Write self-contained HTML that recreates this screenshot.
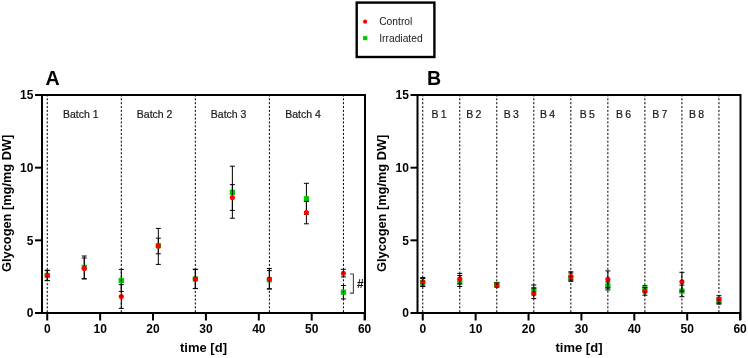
<!DOCTYPE html><html><head><meta charset="utf-8"><style>
html,body{margin:0;padding:0;background:#fff;}
svg{display:block;will-change:transform;}
text{font-family:"Liberation Sans", sans-serif;}
.tk{font-weight:bold;font-size:12px;fill:#000;}
.ttl{font-weight:bold;font-size:13px;fill:#000;}
.bt{font-size:10.5px;fill:#1a1a1a;stroke:#1a1a1a;stroke-width:0.2px;}
.lg{font-size:10.3px;fill:#1a1a1a;}
.pl{font-weight:bold;font-size:19.6px;fill:#000;}
</style></head><body>
<svg width="748" height="358" viewBox="0 0 748 358">
<rect x="0" y="0" width="748" height="358" fill="#fff"/>
<rect x="356.7" y="2.6" width="77.7" height="54.4" fill="none" stroke="#000" stroke-width="2.4"/>
<circle cx="365.1" cy="21.7" r="2.1" fill="#ff0000"/>
<rect x="363.1" y="36.1" width="4.2" height="4.1" fill="#00c800"/>
<text class="lg" x="379.2" y="25.4">Control</text>
<text class="lg" x="379.2" y="41.9">Irradiated</text>
<text class="pl" x="45.4" y="85">A</text>
<path d="M47.25 270.6 V280.4 M44.75 270.6 H49.75 M44.75 280.4 H49.75" stroke="#000" stroke-width="1" fill="none"/>
<rect x="44.6" y="272.85" width="5.3" height="5.3" fill="#00c800"/>
<path d="M47.25 270.2 V280.6 M44.75 270.2 H49.75 M44.75 280.6 H49.75" stroke="#000" stroke-width="1" fill="none"/>
<circle cx="47.25" cy="275.2" r="2.55" fill="#ff0000"/>
<path d="M84.27 256 V278.8 M81.77 256 H86.77 M81.77 278.8 H86.77" stroke="#000" stroke-width="1" fill="none"/>
<rect x="81.62" y="264.75" width="5.3" height="5.3" fill="#00c800"/>
<path d="M84.27 258 V278.8 M81.77 258 H86.77 M81.77 278.8 H86.77" stroke="#000" stroke-width="1" fill="none"/>
<circle cx="84.27" cy="268.4" r="2.55" fill="#ff0000"/>
<path d="M121.3 269.4 V291.4 M118.8 269.4 H123.8 M118.8 291.4 H123.8" stroke="#000" stroke-width="1" fill="none"/>
<rect x="118.65" y="277.85" width="5.3" height="5.3" fill="#00c800"/>
<path d="M121.3 284.7 V308.4 M118.8 284.7 H123.8 M118.8 308.4 H123.8" stroke="#000" stroke-width="1" fill="none"/>
<circle cx="121.3" cy="296.6" r="2.55" fill="#ff0000"/>
<path d="M158.32 228.4 V264.4 M155.82 228.4 H160.82 M155.82 264.4 H160.82" stroke="#000" stroke-width="1" fill="none"/>
<rect x="155.67" y="243.05" width="5.3" height="5.3" fill="#00c800"/>
<path d="M158.32 238.2 V253.8 M155.82 238.2 H160.82 M155.82 253.8 H160.82" stroke="#000" stroke-width="1" fill="none"/>
<circle cx="158.32" cy="246.1" r="2.55" fill="#ff0000"/>
<path d="M195.34 269.6 V288.4 M192.84 269.6 H197.84 M192.84 288.4 H197.84" stroke="#000" stroke-width="1" fill="none"/>
<rect x="192.69" y="276.35" width="5.3" height="5.3" fill="#00c800"/>
<path d="M195.34 269.2 V288.6 M192.84 269.2 H197.84 M192.84 288.6 H197.84" stroke="#000" stroke-width="1" fill="none"/>
<circle cx="195.34" cy="279" r="2.55" fill="#ff0000"/>
<path d="M232.36 166.2 V218.2 M229.86 166.2 H234.86 M229.86 218.2 H234.86" stroke="#000" stroke-width="1" fill="none"/>
<rect x="229.71" y="189.65" width="5.3" height="5.3" fill="#00c800"/>
<path d="M232.36 184.6 V210.4 M229.86 184.6 H234.86 M229.86 210.4 H234.86" stroke="#000" stroke-width="1" fill="none"/>
<circle cx="232.36" cy="197.6" r="2.55" fill="#ff0000"/>
<path d="M269.39 268.5 V289 M266.89 268.5 H271.89 M266.89 289 H271.89" stroke="#000" stroke-width="1" fill="none"/>
<rect x="266.74" y="277.05" width="5.3" height="5.3" fill="#00c800"/>
<path d="M269.39 270.6 V288.8 M266.89 270.6 H271.89 M266.89 288.8 H271.89" stroke="#000" stroke-width="1" fill="none"/>
<circle cx="269.39" cy="279" r="2.55" fill="#ff0000"/>
<path d="M306.41 183.3 V214.3 M303.91 183.3 H308.91 M303.91 214.3 H308.91" stroke="#000" stroke-width="1" fill="none"/>
<rect x="303.76" y="196.15" width="5.3" height="5.3" fill="#00c800"/>
<path d="M306.41 201.4 V223.8 M303.91 201.4 H308.91 M303.91 223.8 H308.91" stroke="#000" stroke-width="1" fill="none"/>
<circle cx="306.41" cy="212.6" r="2.55" fill="#ff0000"/>
<path d="M343.43 285.5 V298.9 M340.93 285.5 H345.93 M340.93 298.9 H345.93" stroke="#000" stroke-width="1" fill="none"/>
<rect x="340.78" y="289.55" width="5.3" height="5.3" fill="#00c800"/>
<path d="M343.43 269.3 V276.9 M340.93 269.3 H345.93 M340.93 276.9 H345.93" stroke="#000" stroke-width="1" fill="none"/>
<circle cx="343.43" cy="273.2" r="2.55" fill="#ff0000"/>
<line x1="47.25" y1="94.4" x2="47.25" y2="313" stroke="#000" stroke-width="1" stroke-dasharray="2.1,1.752"/>
<line x1="121.3" y1="94.4" x2="121.3" y2="313" stroke="#000" stroke-width="1" stroke-dasharray="2.1,1.752"/>
<line x1="195.34" y1="94.4" x2="195.34" y2="313" stroke="#000" stroke-width="1" stroke-dasharray="2.1,1.752"/>
<line x1="269.39" y1="94.4" x2="269.39" y2="313" stroke="#000" stroke-width="1" stroke-dasharray="2.1,1.752"/>
<line x1="343.43" y1="94.4" x2="343.43" y2="313" stroke="#000" stroke-width="1" stroke-dasharray="2.1,1.752"/>
<text class="bt" x="63" y="117.5">Batch 1</text>
<text class="bt" x="136.8" y="117.5">Batch 2</text>
<text class="bt" x="210.8" y="117.5">Batch 3</text>
<text class="bt" x="285.2" y="117.5">Batch 4</text>
<path d="M42 94 V314 M41 95 H366 M365 94 V320 M41 313 H366" stroke="#000" stroke-width="2" fill="none"/>
<line x1="35" y1="313" x2="42" y2="313" stroke="#000" stroke-width="2"/>
<text class="tk" x="33.4" y="317.2" text-anchor="end">0</text>
<line x1="35" y1="240.33" x2="42" y2="240.33" stroke="#000" stroke-width="2"/>
<text class="tk" x="33.4" y="244.53" text-anchor="end">5</text>
<line x1="35" y1="167.67" x2="42" y2="167.67" stroke="#000" stroke-width="2"/>
<text class="tk" x="33.4" y="171.87" text-anchor="end">10</text>
<line x1="35" y1="95" x2="42" y2="95" stroke="#000" stroke-width="2"/>
<text class="tk" x="33.4" y="99.2" text-anchor="end">15</text>
<line x1="47.25" y1="313" x2="47.25" y2="320.5" stroke="#000" stroke-width="2"/>
<text class="tk" x="47.25" y="333.4" text-anchor="middle">0</text>
<line x1="100.14" y1="313" x2="100.14" y2="320.5" stroke="#000" stroke-width="2"/>
<text class="tk" x="100.14" y="333.4" text-anchor="middle">10</text>
<line x1="153.03" y1="313" x2="153.03" y2="320.5" stroke="#000" stroke-width="2"/>
<text class="tk" x="153.03" y="333.4" text-anchor="middle">20</text>
<line x1="205.92" y1="313" x2="205.92" y2="320.5" stroke="#000" stroke-width="2"/>
<text class="tk" x="205.92" y="333.4" text-anchor="middle">30</text>
<line x1="258.81" y1="313" x2="258.81" y2="320.5" stroke="#000" stroke-width="2"/>
<text class="tk" x="258.81" y="333.4" text-anchor="middle">40</text>
<line x1="311.7" y1="313" x2="311.7" y2="320.5" stroke="#000" stroke-width="2"/>
<text class="tk" x="311.7" y="333.4" text-anchor="middle">50</text>
<line x1="364.59" y1="313" x2="364.59" y2="320.5" stroke="#000" stroke-width="2"/>
<text class="tk" x="364.59" y="333.4" text-anchor="middle">60</text>
<text class="ttl" x="203.5" y="352.3" text-anchor="middle">time [d]</text>
<text class="ttl" style="font-size:12.8px" text-anchor="middle" transform="translate(10.5,203.3) rotate(-90)">Glycogen [mg/mg DW]</text>
<text class="pl" x="427" y="85">B</text>
<path d="M422.75 277.5 V286.5 M420.25 277.5 H425.25 M420.25 286.5 H425.25" stroke="#000" stroke-width="1" fill="none"/>
<rect x="420.1" y="279.85" width="5.3" height="5.3" fill="#00c800"/>
<path d="M422.75 278.5 V286 M420.25 278.5 H425.25 M420.25 286 H425.25" stroke="#000" stroke-width="1" fill="none"/>
<circle cx="422.75" cy="282.1" r="2.55" fill="#ff0000"/>
<path d="M459.77 275.5 V286.5 M457.27 275.5 H462.27 M457.27 286.5 H462.27" stroke="#000" stroke-width="1" fill="none"/>
<rect x="457.12" y="278.85" width="5.3" height="5.3" fill="#00c800"/>
<path d="M459.77 273.4 V284 M457.27 273.4 H462.27 M457.27 284 H462.27" stroke="#000" stroke-width="1" fill="none"/>
<circle cx="459.77" cy="278.7" r="2.55" fill="#ff0000"/>
<path d="M496.8 282.5 V286.5 M494.3 282.5 H499.3 M494.3 286.5 H499.3" stroke="#000" stroke-width="1" fill="none"/>
<rect x="494.15" y="281.85" width="5.3" height="5.3" fill="#00c800"/>
<path d="M496.8 283 V287.2 M494.3 283 H499.3 M494.3 287.2 H499.3" stroke="#000" stroke-width="1" fill="none"/>
<circle cx="496.8" cy="285.1" r="2.55" fill="#ff0000"/>
<path d="M533.82 285 V294.8 M531.32 285 H536.32 M531.32 294.8 H536.32" stroke="#000" stroke-width="1" fill="none"/>
<rect x="531.17" y="287.25" width="5.3" height="5.3" fill="#00c800"/>
<path d="M533.82 288 V298.6 M531.32 288 H536.32 M531.32 298.6 H536.32" stroke="#000" stroke-width="1" fill="none"/>
<circle cx="533.82" cy="293.4" r="2.55" fill="#ff0000"/>
<path d="M570.84 271.8 V281.3 M568.34 271.8 H573.34 M568.34 281.3 H573.34" stroke="#000" stroke-width="1" fill="none"/>
<rect x="568.19" y="274.85" width="5.3" height="5.3" fill="#00c800"/>
<path d="M570.84 273 V280.2 M568.34 273 H573.34 M568.34 280.2 H573.34" stroke="#000" stroke-width="1" fill="none"/>
<circle cx="570.84" cy="276.6" r="2.55" fill="#ff0000"/>
<path d="M607.87 282 V290 M605.37 282 H610.37 M605.37 290 H610.37" stroke="#000" stroke-width="1" fill="none"/>
<rect x="605.22" y="283.35" width="5.3" height="5.3" fill="#00c800"/>
<path d="M607.87 270.9 V287.9 M605.37 270.9 H610.37 M605.37 287.9 H610.37" stroke="#000" stroke-width="1" fill="none"/>
<circle cx="607.87" cy="279.4" r="2.55" fill="#ff0000"/>
<path d="M644.89 285.7 V291.9 M642.39 285.7 H647.39 M642.39 291.9 H647.39" stroke="#000" stroke-width="1" fill="none"/>
<rect x="642.24" y="286.15" width="5.3" height="5.3" fill="#00c800"/>
<path d="M644.89 287.6 V295.2 M642.39 287.6 H647.39 M642.39 295.2 H647.39" stroke="#000" stroke-width="1" fill="none"/>
<circle cx="644.89" cy="291.4" r="2.55" fill="#ff0000"/>
<path d="M681.91 285.1 V296.7 M679.41 285.1 H684.41 M679.41 296.7 H684.41" stroke="#000" stroke-width="1" fill="none"/>
<rect x="679.26" y="288.45" width="5.3" height="5.3" fill="#00c800"/>
<path d="M681.91 272.3 V291.1 M679.41 272.3 H684.41 M679.41 291.1 H684.41" stroke="#000" stroke-width="1" fill="none"/>
<circle cx="681.91" cy="281.7" r="2.55" fill="#ff0000"/>
<path d="M718.93 297.7 V304.1 M716.43 297.7 H721.43 M716.43 304.1 H721.43" stroke="#000" stroke-width="1" fill="none"/>
<rect x="716.28" y="298.25" width="5.3" height="5.3" fill="#00c800"/>
<path d="M718.93 295.7 V303.1 M716.43 295.7 H721.43 M716.43 303.1 H721.43" stroke="#000" stroke-width="1" fill="none"/>
<circle cx="718.93" cy="299.4" r="2.55" fill="#ff0000"/>
<line x1="422.75" y1="94.4" x2="422.75" y2="313" stroke="#000" stroke-width="1" stroke-dasharray="2.1,1.752"/>
<line x1="459.77" y1="94.4" x2="459.77" y2="313" stroke="#000" stroke-width="1" stroke-dasharray="2.1,1.752"/>
<line x1="496.8" y1="94.4" x2="496.8" y2="313" stroke="#000" stroke-width="1" stroke-dasharray="2.1,1.752"/>
<line x1="533.82" y1="94.4" x2="533.82" y2="313" stroke="#000" stroke-width="1" stroke-dasharray="2.1,1.752"/>
<line x1="570.84" y1="94.4" x2="570.84" y2="313" stroke="#000" stroke-width="1" stroke-dasharray="2.1,1.752"/>
<line x1="607.87" y1="94.4" x2="607.87" y2="313" stroke="#000" stroke-width="1" stroke-dasharray="2.1,1.752"/>
<line x1="644.89" y1="94.4" x2="644.89" y2="313" stroke="#000" stroke-width="1" stroke-dasharray="2.1,1.752"/>
<line x1="681.91" y1="94.4" x2="681.91" y2="313" stroke="#000" stroke-width="1" stroke-dasharray="2.1,1.752"/>
<line x1="718.93" y1="94.4" x2="718.93" y2="313" stroke="#000" stroke-width="1" stroke-dasharray="2.1,1.752"/>
<text class="bt" x="431.6" y="117.5" word-spacing="-0.7">B 1</text>
<text class="bt" x="466.2" y="117.5" word-spacing="-0.7">B 2</text>
<text class="bt" x="503.8" y="117.5" word-spacing="-0.7">B 3</text>
<text class="bt" x="540.1" y="117.5" word-spacing="-0.7">B 4</text>
<text class="bt" x="579.7" y="117.5" word-spacing="-0.7">B 5</text>
<text class="bt" x="616" y="117.5" word-spacing="-0.7">B 6</text>
<text class="bt" x="652.2" y="117.5" word-spacing="-0.7">B 7</text>
<text class="bt" x="689" y="117.5" word-spacing="-0.7">B 8</text>
<path d="M417.5 94 V314 M416.5 95 H741.5 M740.5 94 V320 M416.5 313 H741.5" stroke="#000" stroke-width="2" fill="none"/>
<line x1="410.5" y1="313" x2="417.5" y2="313" stroke="#000" stroke-width="2"/>
<text class="tk" x="408.9" y="317.2" text-anchor="end">0</text>
<line x1="410.5" y1="240.33" x2="417.5" y2="240.33" stroke="#000" stroke-width="2"/>
<text class="tk" x="408.9" y="244.53" text-anchor="end">5</text>
<line x1="410.5" y1="167.67" x2="417.5" y2="167.67" stroke="#000" stroke-width="2"/>
<text class="tk" x="408.9" y="171.87" text-anchor="end">10</text>
<line x1="410.5" y1="95" x2="417.5" y2="95" stroke="#000" stroke-width="2"/>
<text class="tk" x="408.9" y="99.2" text-anchor="end">15</text>
<line x1="422.75" y1="313" x2="422.75" y2="320.5" stroke="#000" stroke-width="2"/>
<text class="tk" x="422.75" y="333.4" text-anchor="middle">0</text>
<line x1="475.64" y1="313" x2="475.64" y2="320.5" stroke="#000" stroke-width="2"/>
<text class="tk" x="475.64" y="333.4" text-anchor="middle">10</text>
<line x1="528.53" y1="313" x2="528.53" y2="320.5" stroke="#000" stroke-width="2"/>
<text class="tk" x="528.53" y="333.4" text-anchor="middle">20</text>
<line x1="581.42" y1="313" x2="581.42" y2="320.5" stroke="#000" stroke-width="2"/>
<text class="tk" x="581.42" y="333.4" text-anchor="middle">30</text>
<line x1="634.31" y1="313" x2="634.31" y2="320.5" stroke="#000" stroke-width="2"/>
<text class="tk" x="634.31" y="333.4" text-anchor="middle">40</text>
<line x1="687.2" y1="313" x2="687.2" y2="320.5" stroke="#000" stroke-width="2"/>
<text class="tk" x="687.2" y="333.4" text-anchor="middle">50</text>
<line x1="740.09" y1="313" x2="740.09" y2="320.5" stroke="#000" stroke-width="2"/>
<text class="tk" x="740.09" y="333.4" text-anchor="middle">60</text>
<text class="ttl" x="579" y="352.3" text-anchor="middle">time [d]</text>
<text class="ttl" style="font-size:12.8px" text-anchor="middle" transform="translate(386,203.3) rotate(-90)">Glycogen [mg/mg DW]</text>
<path d="M349.9 274 H353.4 V293.1 H349.9" stroke="#444" stroke-width="1.1" fill="none"/>
<text x="357.1" y="287.8" style="font-size:12px;font-weight:bold;fill:#111;">#</text>
</svg></body></html>
